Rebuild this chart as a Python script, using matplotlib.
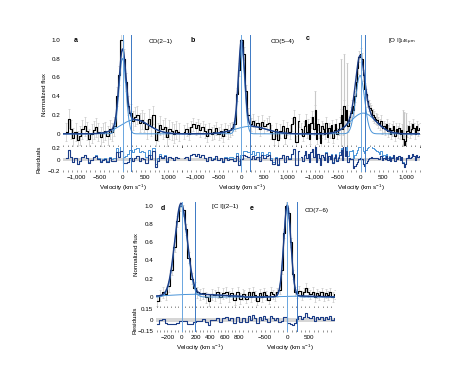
import numpy as np
import matplotlib
matplotlib.use('Agg')
import matplotlib.pyplot as plt
from matplotlib.ticker import FixedLocator, MultipleLocator, FuncFormatter

plt.rcParams['font.family'] = ['Liberation Sans', 'DejaVu Sans']
plt.rcParams['font.size'] = 4.5
plt.rcParams['mathtext.default'] = 'regular'

# --- a: CO(2-1), 50 km/s channels
a_vel = np.arange(-1225, 1226, 50)
a_flux = [0.02, 0.16, 0.05, -0.04, 0.02, -0.07, -0.02, 0.05, 0.08, 0.03,
          -0.05, 0.0, 0.04, 0.07, 0.02, -0.03, 0.01, 0.03, -0.02, 0.05,
          0.02, 0.08, 0.4, 0.62, 1.0,
          0.8, 0.55, 0.3, 0.22, 0.14, 0.18, 0.2, 0.12, 0.15, 0.12,
          0.05, 0.16, 0.08, 0.2, -0.07, 0.02, 0.09, 0.05, 0.07, -0.03,
          0.05, 0.03, 0.0, 0.04, 0.02]
a_err = 0.1
a_narrow = (0.8, 0, 180)      # amplitude, centre, FWHM
a_broad = (0.15, 270, 720)
a_lines = [0, 190]

# --- b: CO(5-4)
b_vel = np.arange(-1250, 1251, 50)
b_flux = [0.02, 0.05, 0.0, 0.07, 0.1, 0.06, 0.09, 0.04, 0.07, 0.03,
          -0.02, 0.05, 0.0, 0.02, 0.06, 0.0, 0.03, -0.02, 0.05, 0.02,
          0.04, 0.06, 0.1, 0.42, 0.68,
          1.0,
          0.85, 0.45, 0.2, 0.1, 0.14, 0.08, 0.12, 0.05, 0.13, 0.08,
          0.1, 0.12, 0.02, -0.05, 0.05, -0.07, 0.03, 0.08, -0.04, 0.06,
          0.02, 0.1, 0.18, -0.09, 0.14]
b_err = 0.07
b_narrow = (0.93, 0, 160)
b_broad = (0.08, 200, 800)
b_lines = [0, 190]

# --- c: [OI] 146 um, 30 km/s channels
c_vel = np.arange(-1290, 1291, 30)
c_flux = [0.05, -0.02, 0.08, 0.15, 0.02, 0.1, -0.05, 0.12, 0.18, 0.05,
          0.25, -0.05, 0.1, 0.02, -0.1, 0.08, 0.05, 0.0, 0.12, -0.03,
          0.06, 0.02, 0.09, -0.04, 0.04, 0.1, 0.0, 0.05, 0.12, 0.2,
          0.05, 0.3, 0.15, 0.25, 0.08, 0.18, 0.22, 0.3, 0.25, 0.4,
          0.55, 0.7, 0.82,
          0.85,
          0.8, 0.62, 0.48, 0.42, 0.35, 0.3, 0.27, 0.25, 0.2, 0.18,
          0.16, 0.15, 0.12, 0.1, 0.14, 0.06, 0.08, 0.05, 0.1, 0.03,
          0.06, 0.0, 0.04, 0.08, -0.02, 0.05, 0.02, 0.06, 0.0, 0.04,
          -0.05, -0.12, -0.08, 0.03, 0.08, 0.02, 0.05, 0.1, 0.06, 0.0,
          0.08, 0.04, 0.06]
c_err = 0.06
c_spike_vel = [-990, -420, -360, -300, 930, 960, 990]
c_spike_err = [0.2, 0.6, 0.55, 0.5, 0.3, 0.35, 0.3]
c_narrow = (0.62, -10, 230)
c_broad = (0.22, 60, 650)
c_lines = [0, 100]

# --- d: [CI](2-1), 40 km/s channels
d_vel = np.arange(-340, 861, 40)
d_flux = [-0.04, 0.02, 0.05, 0.03, 0.12, 0.3, 0.55, 0.83, 1.0,
          0.95, 0.74, 0.43, 0.2, 0.1, 0.05, 0.03, 0.04, 0.0, -0.04,
          0.03, 0.02, 0.05, 0.0, 0.04, 0.05, 0.01, 0.04, -0.03, 0.05,
          -0.02, 0.03]
d_err = 0.06
d_main = (1.0, -10, 205)
d_broad = (0.03, 200, 900)
d_lines = [0, 190]

# --- e: CO(7-6), 50 km/s channels
e_vel = np.arange(-975, 1076, 50)
e_flux = [0.03, -0.02, 0.05, 0.0, 0.06, 0.02, -0.04, 0.04, 0.0, 0.05,
          0.02, -0.03, 0.06, 0.03, 0.01, 0.05, 0.08, 0.3, 0.7, 1.0,
          0.92, 0.6, 0.25, 0.06, 0.04, 0.07, 0.02, 0.05, 0.1, 0.05,
          0.03, 0.06, 0.0, 0.04, 0.02, 0.05, 0.01, 0.04, 0.02, 0.05,
          0.0, 0.03]
e_err = 0.05
e_main = (1.0, 0, 190)
e_broad = (0.01, 300, 900)
e_lines = [0, 210]

dark = '#1c3d87'
light = '#4a94d8'
vl0 = '#6aa6e0'
vl1 = '#3b78c4'
W, H = 474, 370


def gauss(v, p):
    amp, cen, fwhm = p
    return amp * np.exp(-4 * np.log(2) * ((v - cen) / fwhm) ** 2)


def minus(s):
    return s.replace('-', '\u2212')


def panel(box, rbox, vel, flux, err, comp1, comp2, lines, xlim, rlim, band,
          show_y, spine, light_resid, xticks, xminor):
    ax = fig.add_axes(box)
    axr = fig.add_axes(rbox)
    flux = np.array(flux)
    ax.errorbar(vel, flux, yerr=err, fmt='none', ecolor='#c8c8c8',
                elinewidth=0.5, capsize=1.0, capthick=0.5, zorder=1)
    ax.step(vel, flux, where='mid', color='k', lw=0.8, zorder=3)
    v = np.linspace(xlim[0], xlim[1], 800)
    ax.plot(v, gauss(v, comp2), color=light, lw=0.7, zorder=4)
    ax.plot(v, gauss(v, comp1), color=light, lw=0.7, zorder=4)
    ax.plot(v, gauss(v, comp1) + gauss(v, comp2), color=dark, lw=1.0, zorder=5)

    res = flux - gauss(vel, comp1) - gauss(vel, comp2)
    axr.axhspan(-band, band, color='#d6d6d6', lw=0, zorder=1)
    if light_resid:
        axr.step(vel, flux - gauss(vel, comp1), where='mid', color=light,
                 lw=0.7, zorder=2)
    axr.step(vel, res, where='mid', color=dark, lw=0.8, zorder=3)

    for a in (ax, axr):
        a.axvline(lines[0], color=vl0, lw=0.7, zorder=6)
        a.axvline(lines[1], color=vl1, lw=0.7, zorder=6)
        a.set_xlim(xlim)
        for s in a.spines.values():
            s.set_visible(False)
        a.xaxis.set_major_locator(FixedLocator(xticks))
        a.xaxis.set_minor_locator(MultipleLocator(xminor))
        a.tick_params(axis='x', which='both', direction='in', length=1.2,
                      width=0.4, color='#444444')
        a.tick_params(axis='y', length=0, pad=2)
    if spine:
        ax.spines['bottom'].set_visible(True)
        ax.spines['bottom'].set_linewidth(0.6)
        ax.spines['bottom'].set_color('#333333')
    ax.tick_params(axis='x', labelbottom=False)
    axr.tick_params(axis='x', pad=2)
    axr.xaxis.set_major_formatter(FuncFormatter(lambda x, _: minus('{:,.0f}'.format(x))))
    axr.set_xlabel('Velocity (km s$^{-1}$)', labelpad=2)
    ax.set_ylim(-0.14 if spine else -0.12, 1.05 if spine else 1.04)
    ax.set_yticks([0, 0.2, 0.4, 0.6, 0.8, 1.0])
    ax.yaxis.set_major_formatter(FuncFormatter(lambda y, _: '0' if abs(y) < 1e-9 else '{:.1f}'.format(y)))
    axr.set_ylim(-rlim * 1.05, rlim * 1.05)
    axr.set_yticks([-rlim, 0, rlim])
    axr.yaxis.set_major_formatter(FuncFormatter(lambda y, _: '0' if abs(y) < 1e-9 else minus('{:g}'.format(y))))
    if not show_y:
        ax.tick_params(axis='y', labelleft=False)
        axr.tick_params(axis='y', labelleft=False)
    return ax, axr


def fbox(x0, x1, y0, y1):
    return [x0 / W, 1 - y1 / H, (x1 - x0) / W, (y1 - y0) / H]


fig = plt.figure(figsize=(4.74, 3.70), dpi=100)

top_x = [63, 182, 301, 420]
top_ticks = [-1000, -500, 0, 500, 1000]
axc, _ = panel(fbox(top_x[2], top_x[3], 35, 147), fbox(top_x[2], top_x[3], 147, 172),
               c_vel, c_flux, c_err, c_narrow, c_broad, c_lines, (-1300, 1300),
               0.2, 0.03, False, True, True, top_ticks, 100)
axc.errorbar(c_spike_vel, [c_flux[list(c_vel).index(v)] for v in c_spike_vel],
             yerr=c_spike_err, fmt='none', ecolor='#c8c8c8', elinewidth=0.8,
             capsize=1.0, capthick=0.5, zorder=1)
panel(fbox(top_x[1], top_x[2], 35, 147), fbox(top_x[1], top_x[2], 147, 172),
      b_vel, b_flux, b_err, b_narrow, b_broad, b_lines, (-1300, 1300),
      0.2, 0.03, False, True, True, top_ticks, 100)
panel(fbox(top_x[0], top_x[1], 35, 147), fbox(top_x[0], top_x[1], 147, 172),
      a_vel, a_flux, a_err, a_narrow, a_broad, a_lines, (-1300, 1300),
      0.2, 0.03, True, True, True, top_ticks, 100)

panel(fbox(156, 244, 202, 308), fbox(156, 244, 308, 332),
      d_vel, d_flux, d_err, d_main, d_broad, d_lines, (-360, 870),
      0.15, 0.025, True, False, False, [-200, 0, 200, 400, 600, 800], 50)
panel(fbox(244, 335, 202, 308), fbox(244, 335, 308, 332),
      e_vel, e_flux, e_err, e_main, e_broad, e_lines, (-980, 1080),
      0.15, 0.025, False, False, False, [-500, 0, 500], 100)


def ftext(x, y, s, **kw):
    fig.text(x / W, 1 - y / H, s, ha='center', va='center', **kw)


for x, y, s in [(76, 40, 'a'), (193, 40, 'b'), (308, 39, 'c'),
                (163, 209, 'd'), (252, 209, 'e')]:
    ftext(x, y, s, fontweight='bold', fontsize=5)
ftext(161, 42, 'CO(2\u20131)')
ftext(283, 42, 'CO(5\u20134)')
ftext(402, 42, '[O I]$_{146\\,\\mu m}$')
ftext(225, 207, '[C I](2\u20131)')
ftext(317, 211, 'CO(7\u20136)')
ftext(44, 95, 'Normalized flux', rotation=90)
ftext(39, 159, 'Residuals', rotation=90)
ftext(137, 255, 'Normalized flux', rotation=90)
ftext(135, 320, 'Residuals', rotation=90)

fig.savefig('out.png', dpi=100)
